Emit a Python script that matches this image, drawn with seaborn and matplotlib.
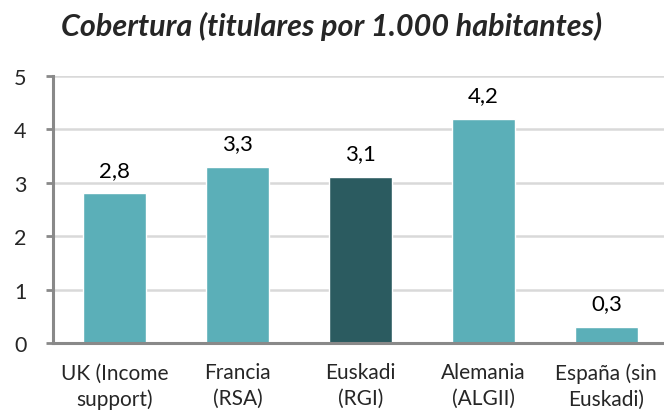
import numpy as np
import pandas as pd
import matplotlib
matplotlib.use("Agg")
import matplotlib.pyplot as plt
import seaborn as sns

categorias = ["UK (Income\nsupport)", "Francia\n(RSA)", "Euskadi\n(RGI)",
              "Alemania\n(ALGII)", "España (sin\nEuskadi)"]
cobertura = [2.8, 3.3, 3.1, 4.2, 0.3]
colores = ["#5BAFB8", "#5BAFB8", "#2B5B60", "#5BAFB8", "#5BAFB8"]

sns.set_style("white")
plt.rcParams['font.family'] = ['Lato', 'DejaVu Sans']

df = pd.DataFrame({"pais": categorias, "valor": cobertura})

fig = plt.figure(figsize=(6.64, 4.14), dpi=100)
ax = fig.add_axes([0.0798, 0.169, 0.926, 0.645])

sns.barplot(data=df, x="pais", y="valor", hue="pais", palette=colores,
            width=0.51, legend=False, ax=ax, saturation=1)

for c in ax.containers:
    ax.bar_label(c, labels=[f"{v:.1f}".replace(".", ",") for v in c.datavalues],
                 padding=10, fontsize=16, color="black")

ax.set_ylim(0, 5)
ax.set_xlim(-0.5, 4.5)
ax.set_yticks(range(0, 6))
ax.yaxis.grid(True, color="#D9D9D9", linewidth=1.8)
ax.set_axisbelow(True)

ax.set_xticks(np.arange(-0.5, 5, 1), minor=True)
ax.tick_params(axis="x", which="major", length=0, labelsize=15, pad=14)
ax.tick_params(axis="x", which="minor", length=5, width=2, color="#898989",
               direction="out")
ax.tick_params(axis="y", length=5, width=2, color="#898989", labelsize=15.5,
               pad=14, left=True)
for t in ax.get_xticklabels():
    t.set_linespacing(1.35)

for s in ["top", "right"]:
    ax.spines[s].set_visible(False)
for s in ["left", "bottom"]:
    ax.spines[s].set_color("#898989")
    ax.spines[s].set_linewidth(2.2)

ax.set_xlabel("")
ax.set_ylabel("")
fig.text(0.5, 0.935, "Cobertura (titulares por 1.000 habitantes)",
         ha="center", va="center", fontsize=22, fontweight="bold",
         fontstyle="italic")

fig.savefig("out.png", dpi=100)
